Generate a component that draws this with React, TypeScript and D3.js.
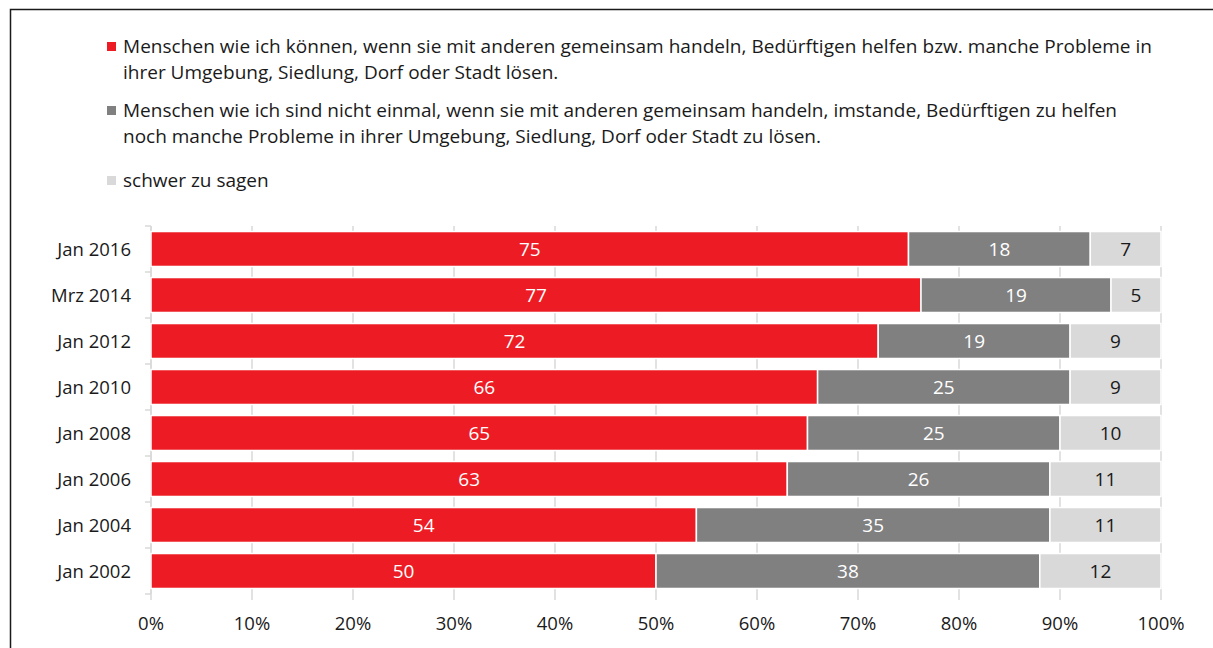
import { useRef, useEffect } from "react";
import * as d3 from "d3";

const categories = ["Jan 2016", "Mrz 2014", "Jan 2012", "Jan 2010", "Jan 2008", "Jan 2006", "Jan 2004", "Jan 2002"];
const canHelp = [75, 77, 72, 66, 65, 63, 54, 50];
const cannotHelp = [18, 19, 19, 25, 25, 26, 35, 38];
const hardToSay = [7, 5, 9, 9, 10, 11, 11, 12];
const ticks = [0, 10, 20, 30, 40, 50, 60, 70, 80, 90, 100];

const seriesNames = [
    [
        "Menschen wie ich können, wenn sie mit anderen gemeinsam handeln, Bedürftigen helfen bzw. manche Probleme in",
        "ihrer Umgebung, Siedlung, Dorf oder Stadt lösen.",
    ],
    [
        "Menschen wie ich sind nicht einmal, wenn sie mit anderen gemeinsam handeln, imstande, Bedürftigen zu helfen",
        "noch manche Probleme in ihrer Umgebung, Siedlung, Dorf oder Stadt zu lösen.",
    ],
    ["schwer zu sagen"],
];
const colors = ["#ED1C24", "#808080", "#D9D9D9"];
const labelColors = ["#FFFFFF", "#FFFFFF", "#1A1A1A"];

const W = 1213;
const H = 648;
const font = "'Open Sans', sans-serif";

export default function App() {
    const svgRef = useRef<SVGSVGElement | null>(null);

    useEffect(() => {
        if (!svgRef.current) return;
        const svg = d3.select(svgRef.current);
        svg.selectAll("*").remove();

        const x = d3.scaleLinear().domain([0, 100]).range([151, 1161]);
        const y = d3.scaleBand().domain(categories).range([226, 594]).paddingInner(0.24).paddingOuter(0.12);

        // frame
        svg.append("path")
            .attr("d", `M10.5,${H} V9.5 H${W}`)
            .attr("fill", "none")
            .attr("stroke", "#1A1A1A")
            .attr("stroke-width", 1.5);

        // legend
        const lineYs = [[53, 79], [117, 143], [187]];
        const firstLineWidths = [1029, 994];
        seriesNames.forEach((lines, i) => {
            svg.append("rect")
                .attr("x", 107)
                .attr("y", lineYs[i][0] - 11)
                .attr("width", 9)
                .attr("height", 9)
                .attr("fill", colors[i]);
            lines.forEach((t, j) => {
                svg.append("text")
                    .attr("x", 123)
                    .attr("y", lineYs[i][j])
                    .attr("font-family", font)
                    .attr("font-size", 19)
                    .attr("textLength", j === 0 && i < 2 ? firstLineWidths[i] : null)
                    .attr("fill", "#1A1A1A")
                    .text(t);
            });
        });

        // gridlines
        svg.append("g")
            .selectAll("line")
            .data(ticks)
            .enter()
            .append("line")
            .attr("x1", d => x(d))
            .attr("x2", d => x(d))
            .attr("y1", 226)
            .attr("y2", 600)
            .attr("stroke", "#D9D9D9")
            .attr("stroke-width", 1.5);

        // y axis line and ticks
        const bounds = d3.range(categories.length + 1).map(i => 226 + i * y.step());
        svg.append("line")
            .attr("x1", x(0)).attr("x2", x(0))
            .attr("y1", 226).attr("y2", 594)
            .attr("stroke", "#D9D9D9").attr("stroke-width", 1.5);
        svg.append("g")
            .selectAll("line")
            .data(bounds)
            .enter()
            .append("line")
            .attr("x1", x(0) - 6).attr("x2", x(0))
            .attr("y1", d => d).attr("y2", d => d)
            .attr("stroke", "#D9D9D9").attr("stroke-width", 1.5);

        // stacked bars, normalized to 100%
        const rows = categories.map((c, i) => ({ c, vals: [canHelp[i], cannotHelp[i], hardToSay[i]] }));
        rows.forEach(r => {
            const total = d3.sum(r.vals);
            let acc = 0;
            r.vals.forEach((v, k) => {
                const x0 = x((acc / total) * 100);
                acc += v;
                const x1 = x((acc / total) * 100);
                const y0 = y(r.c)!;
                svg.append("rect")
                    .attr("x", x0)
                    .attr("y", y0)
                    .attr("width", x1 - x0)
                    .attr("height", y.bandwidth())
                    .attr("fill", colors[k])
                    .attr("stroke", "#FFFFFF")
                    .attr("stroke-width", 1.5);
                svg.append("text")
                    .attr("x", (x0 + x1) / 2)
                    .attr("y", y0 + y.bandwidth() / 2)
                    .attr("dy", "0.36em")
                    .attr("text-anchor", "middle")
                    .attr("font-family", font)
                    .attr("font-size", 19)
                    .attr("fill", labelColors[k])
                    .text(v);
            });
        });

        // category labels
        svg.append("g")
            .selectAll("text")
            .data(categories)
            .enter()
            .append("text")
            .attr("x", 131)
            .attr("y", d => y(d)! + y.bandwidth() / 2)
            .attr("dy", "0.36em")
            .attr("text-anchor", "end")
            .attr("font-family", font)
            .attr("font-size", 18.5)
            .attr("fill", "#1A1A1A")
            .text(d => d);

        // x tick labels
        svg.append("g")
            .selectAll("text")
            .data(ticks)
            .enter()
            .append("text")
            .attr("x", d => x(d))
            .attr("y", 630)
            .attr("text-anchor", "middle")
            .attr("font-family", font)
            .attr("font-size", 18.5)
            .attr("fill", "#1A1A1A")
            .text(d => `${d}%`);
    }, []);

    return (
        <svg ref={svgRef} width={W} height={H} style={{ position: "absolute", left: 0, top: 0, background: "#fff" }} />
    );
}
